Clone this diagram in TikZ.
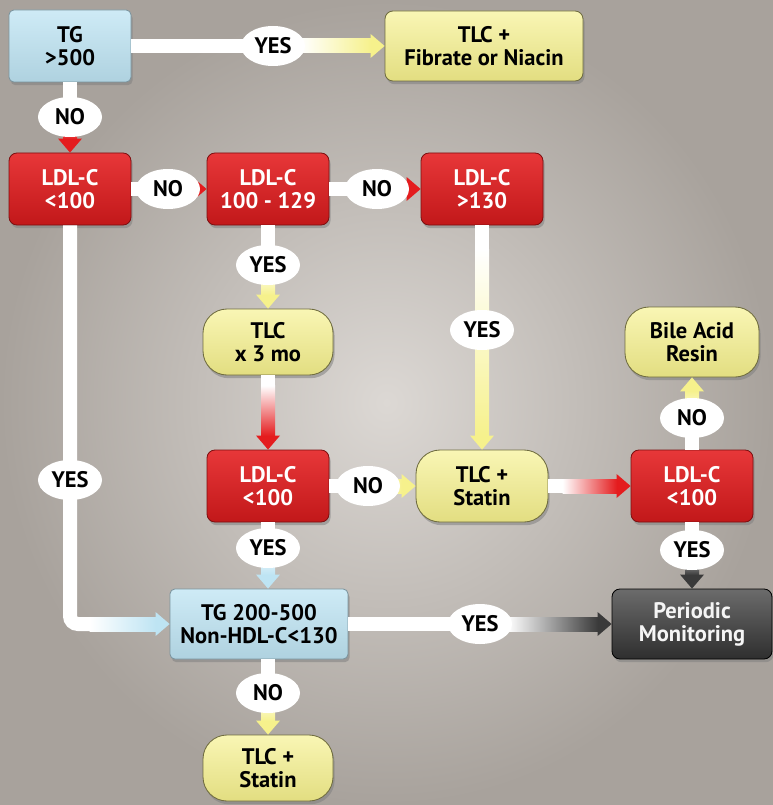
\documentclass[tikz,border=0pt]{standalone}
\usepackage{fontspec}
\setsansfont{PT Sans}
\usetikzlibrary{positioning, shadows, shapes.geometric, arrows.meta, calc}

\definecolor{tgblue}{RGB}{190,228,243}
\definecolor{tlcyellow}{RGB}{246,241,140}
\definecolor{ldlred}{RGB}{228,28,30}
\definecolor{mongray}{RGB}{58,58,58}
\definecolor{bgcenter}{RGB}{220,216,212}
\definecolor{bgedge}{RGB}{168,162,156}

\begin{document}
\begin{tikzpicture}[
  every node/.style={align=center, font=\sffamily\bfseries\fontsize{16}{16.5}\selectfont},
  box/.style={rectangle, minimum width=3.05cm, minimum height=1.8cm, rounded corners=0.2cm, line width=0.6pt, drop shadow={opacity=0.55, shadow xshift=0.04cm, shadow yshift=-0.08cm}},
  tgbox/.style={box, top color=tgblue!75!white, bottom color=tgblue!92!black, draw=tgblue!65!black, rounded corners=0.12cm},
  ldlbox/.style={box, top color=ldlred!88!white, bottom color=ldlred!85!black, draw=ldlred!55!black, text=white},
  tlcbox/.style={box, top color=tlcyellow!65!white, bottom color=tlcyellow!92!black, draw=tlcyellow!45!black, rounded corners=0.6cm, minimum width=3.25cm, minimum height=1.65cm},
  monbox/.style={box, top color=mongray!75!white, bottom color=mongray!80!black, draw=black, text=white!92!gray},
  lbl/.style={ellipse, fill=white, minimum width=1.6cm, minimum height=1.0cm, inner sep=1pt},
  conn/.style={draw=white, line width=0.35cm},
  tored/.style={-{Triangle[width=0.6cm, length=0.35cm, line width=0pt, color=ldlred]}},
  toyellow/.style={-{Triangle[width=0.6cm, length=0.35cm, line width=0pt, color=tlcyellow]}},
  toblue/.style={-{Triangle[width=0.6cm, length=0.35cm, line width=0pt, color=tgblue]}},
  togray/.style={-{Triangle[width=0.6cm, length=0.35cm, line width=0pt, color=mongray]}}
]

% background
\shade[inner color=bgcenter, outer color=bgedge] (0,0) rectangle (19.325,-20.125);

% boxes
\node[tgbox] (tg) at (1.75,-1.15) {TG\\>500};
\node[tlcbox, rounded corners=0.2cm, minimum width=4.95cm, minimum height=1.75cm] (fib) at (12.1,-1.15) {TLC +\\Fibrate or Niacin};

\node[ldlbox] (ldlA) at (1.75,-4.725) {LDL-C\\<100};
\node[ldlbox] (ldlB) at (6.7,-4.725) {LDL-C\\100 - 129};
\node[ldlbox] (ldlC) at (12.05,-4.725) {LDL-C\\>130};

\node[tlcbox] (tlc3) at (6.7,-8.55) {TLC\\x 3 mo};
\node[tlcbox, minimum width=3.35cm, minimum height=1.75cm] (bile) at (17.3,-8.55) {Bile Acid\\Resin};

\node[ldlbox] (ldlD) at (6.7,-12.15) {LDL-C\\<100};
\node[tlcbox, minimum width=3.3cm, minimum height=1.8cm] (statA) at (12.05,-12.15) {TLC +\\Statin};
\node[ldlbox] (ldlE) at (17.3,-12.15) {LDL-C\\<100};

\node[tgbox, minimum width=4.45cm, minimum height=1.75cm] (tg2) at (6.475,-15.6) {TG 200-500\\Non-HDL-C<130};
\node[monbox, minimum width=4.0cm, minimum height=1.75cm] (mon) at (17.3,-15.6) {Periodic\\Monitoring};
\node[tlcbox] (statB) at (6.7,-19.2) {TLC +\\Statin};

% connectors
\draw[conn, toyellow] (tg.east) -- (fib.west);
\shade[left color=white, right color=tlcyellow] ($(fib.west)+(-2.1,0.175)$) rectangle ($(fib.west)+(-0.34,-0.175)$);

\draw[conn, tored] (tg.south) -- (ldlA.north);
\shade[top color=white, bottom color=ldlred] ($(ldlA.north)+(-0.175,1.0)$) rectangle ($(ldlA.north)+(0.175,0.34)$);

\draw[conn, tored] (ldlA.east) -- (ldlB.west);
\shade[left color=white, right color=ldlred] ($(ldlB.west)+(-1.0,0.175)$) rectangle ($(ldlB.west)+(-0.34,-0.175)$);

\draw[conn, tored] (ldlB.east) -- (ldlC.west);
\shade[left color=white, right color=ldlred] ($(ldlC.west)+(-1.0,0.175)$) rectangle ($(ldlC.west)+(-0.34,-0.175)$);

\draw[conn, toyellow] (ldlB.south) -- (tlc3.north);
\shade[top color=white, bottom color=tlcyellow] ($(tlc3.north)+(-0.175,1.0)$) rectangle ($(tlc3.north)+(0.175,0.34)$);

\draw[conn, toyellow] (ldlC.south) -- (statA.north);
\shade[top color=white, bottom color=tlcyellow] ($(statA.north)+(-0.175,5.0)$) rectangle ($(statA.north)+(0.175,0.34)$);

\draw[conn, tored] (tlc3.south) -- (ldlD.north);
\shade[top color=white, bottom color=ldlred] ($(ldlD.north)+(-0.175,1.6)$) rectangle ($(ldlD.north)+(0.175,0.34)$);

\draw[conn, toyellow] (ldlD.east) -- (statA.west);
\shade[left color=white, right color=tlcyellow] ($(statA.west)+(-1.2,0.175)$) rectangle ($(statA.west)+(-0.34,-0.175)$);

\draw[conn, tored] (statA.east) -- (ldlE.west);
\shade[left color=white, right color=ldlred] ($(ldlE.west)+(-1.7,0.175)$) rectangle ($(ldlE.west)+(-0.34,-0.175)$);

\draw[conn, toyellow] (ldlE.north) -- (bile.south);
\shade[top color=tlcyellow, bottom color=white] ($(bile.south)+(-0.175,-0.34)$) rectangle ($(bile.south)+(0.175,-1.0)$);

\draw[conn, togray] (ldlE.south) -- (mon.north);
\shade[top color=white, bottom color=mongray] ($(mon.north)+(-0.175,1.0)$) rectangle ($(mon.north)+(0.175,0.34)$);

\draw[conn, toblue] (ldlD.south) -- (ldlD.south |- tg2.north);
\shade[top color=white, bottom color=tgblue] ($(ldlD.south |- tg2.north)+(-0.175,1.0)$) rectangle ($(ldlD.south |- tg2.north)+(0.175,0.34)$);

\draw[conn, toblue, rounded corners=0.2cm] (ldlA.south) |- (tg2.west);
\shade[left color=white, right color=tgblue] ($(tg2.west)+(-2.0,0.175)$) rectangle ($(tg2.west)+(-0.34,-0.175)$);

\draw[conn, togray] (tg2.east) -- (mon.west);
\shade[left color=white, right color=mongray] ($(mon.west)+(-2.6,0.175)$) rectangle ($(mon.west)+(-0.34,-0.175)$);

\draw[conn, toyellow] (tg2.south -| statB.north) -- (statB.north);
\shade[top color=white, bottom color=tlcyellow] ($(statB.north)+(-0.175,1.0)$) rectangle ($(statB.north)+(0.175,0.34)$);

% labels
\node[lbl] (yesFib) at (6.825,-1.15) {YES};
\node[lbl] (noA) at (1.75,-2.925) {NO};
\node[lbl] (noB) at (4.2,-4.725) {NO};
\node[lbl] (noC) at (9.425,-4.725) {NO};
\node[lbl] (yesTlc) at (6.7,-6.625) {YES};
\node[lbl] (yesStat) at (12.05,-8.25) {YES};
\node[lbl] (noStat) at (9.2,-12.15) {NO};
\node[lbl] (noBile) at (17.3,-10.45) {NO};
\node[lbl] (yesMonA) at (17.3,-13.75) {YES};
\node[lbl] (yesTgA) at (6.7,-13.7) {YES};
\node[lbl] (yesTgB) at (1.75,-12.0) {YES};
\node[lbl] (yesMonB) at (12.0,-15.6) {YES};
\node[lbl] (noStatB) at (6.7,-17.325) {NO};

\end{tikzpicture}
\end{document}
